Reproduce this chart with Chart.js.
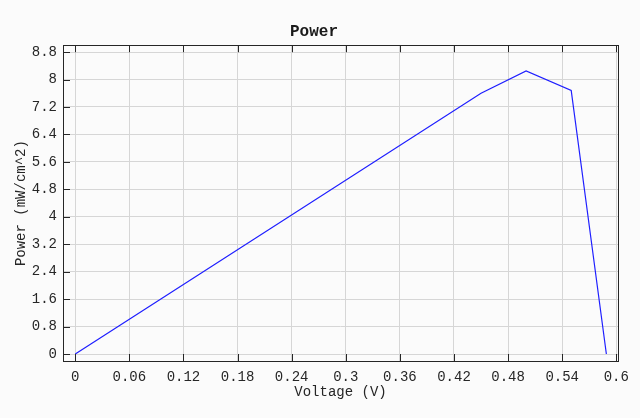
<!DOCTYPE html>
<html>
<head>
<meta charset="utf-8">
<script src="https://cdn.jsdelivr.net/npm/chart.js@4"></script>
<style>
  html, body { margin: 0; padding: 0; background: #fbfbfb; }
  #wrap { width: 640px; height: 418px; }
</style>
</head>
<body>
<div id="wrap"><canvas id="chart"></canvas></div>
<script>
/** Power curve **/
const voltage = [0, 0.45, 0.5, 0.55, 0.589];
const power = [0, 7.6, 8.25, 7.68, 0];

const xTicks = [0, 0.06, 0.12, 0.18, 0.24, 0.3, 0.36, 0.42, 0.48, 0.54, 0.6];
const yTicks = [0, 0.8, 1.6, 2.4, 3.2, 4, 4.8, 5.6, 6.4, 7.2, 8, 8.8];

const points = voltage.map(function(v, i) {
	return {x: v, y: power[i]};
});

const monoFont = "'Liberation Mono', 'DejaVu Sans Mono', monospace";

// box + inward ticks (left, bottom, top)
const boxPlugin = {
	id: 'box',
	afterDraw: function(chart) {
		const ctx = chart.ctx;
		const a = chart.chartArea;
		const xs = chart.scales.x;
		const ys = chart.scales.y;
		ctx.save();
		ctx.strokeStyle = '#262626';
		ctx.lineWidth = 1;
		ctx.beginPath();
		xTicks.forEach(function(t) {
			const px = Math.round(xs.getPixelForValue(t)) + 0.5;
			ctx.moveTo(px, a.bottom);
			ctx.lineTo(px, a.bottom - 7);
			ctx.moveTo(px, a.top);
			ctx.lineTo(px, a.top + 7);
		});
		yTicks.forEach(function(t) {
			const py = Math.round(ys.getPixelForValue(t)) + 0.5;
			ctx.moveTo(a.left, py);
			ctx.lineTo(a.left + 7, py);
		});
		ctx.stroke();
		ctx.strokeRect(Math.round(a.left) + 0.5, Math.round(a.top) + 0.5,
			Math.round(a.right - a.left), Math.round(a.bottom - a.top));
		ctx.restore();
	}
};

const config = {
	type: 'line',
	data: {
		datasets: [{
			label: 'Power',
			data: points,
			borderColor: '#1f1fff',
			borderWidth: 1.2,
			pointRadius: 0,
			fill: false,
			tension: 0
		}]
	},
	options: {
		responsive: true,
		maintainAspectRatio: false,
		animation: false,
		layout: {
			padding: {left: 10, right: 22, top: 0, bottom: 0}
		},
		plugins: {
			legend: false,
			tooltip: {enabled: false},
			title: {
				display: true,
				text: 'Power',
				color: '#1a1a1a',
				font: {family: monoFont, size: 16, weight: 'bold'},
				padding: {top: 22, bottom: 4}
			}
		},
		scales: {
			x: {
				type: 'linear',
				min: -0.0136,
				max: 0.6019,
				afterBuildTicks: function(scale) {
					scale.ticks = xTicks.map(function(v) { return {value: v}; });
				},
				afterFit: function(scale) { scale.height = 57; },
				grid: {color: '#d6d6d6', drawTicks: false},
				border: {display: false},
				ticks: {
					color: '#262626',
					padding: 8,
					maxRotation: 0,
					font: {family: monoFont, size: 14},
					callback: function(v) { return String(+v.toFixed(2)); }
				},
				title: {
					display: true,
					text: 'Voltage (V)',
					color: '#262626',
					font: {family: monoFont, size: 14},
					padding: {top: 0, bottom: 17}
				}
			},
			y: {
				min: -0.204,
				max: 9.0,
				afterBuildTicks: function(scale) {
					scale.ticks = yTicks.map(function(v) { return {value: v}; });
				},
				afterFit: function(scale) { scale.width = 53; },
				grid: {color: '#d6d6d6', drawTicks: false},
				border: {display: false},
				ticks: {
					color: '#262626',
					padding: 6,
					font: {family: monoFont, size: 14},
					callback: function(v) { return String(+v.toFixed(1)); }
				},
				title: {
					display: true,
					text: 'Power (mW/cm^2)',
					color: '#262626',
					font: {family: monoFont, size: 14},
					padding: {top: 3, bottom: 4}
				}
			}
		}
	},
	plugins: [boxPlugin]
};

const chart = new Chart(document.getElementById('chart'), config);
</script>
</body>
</html>
